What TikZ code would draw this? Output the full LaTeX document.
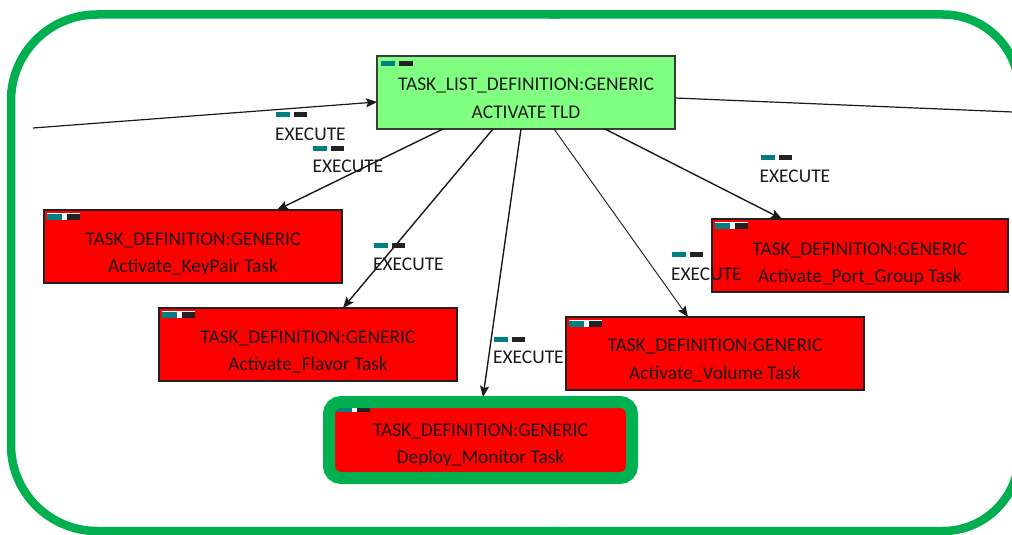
\documentclass[tikz,border=0pt]{standalone}
\usepackage{fontspec}
\setmainfont{Carlito}
\usetikzlibrary{arrows.meta,calc}
\definecolor{framegreen}{HTML}{00B050}
\definecolor{tldgreen}{HTML}{80FF80}
\definecolor{taskred}{HTML}{FF0000}
\definecolor{flagteal}{HTML}{008080}
\definecolor{flagdark}{HTML}{222222}
\definecolor{ink}{HTML}{1A1A1A}

\begin{document}
\begin{tikzpicture}[x=1pt,y=-1pt,
  taskbox/.style={draw=flagdark, line width=1.3pt, fill=taskred, minimum width=298pt,
    minimum height=73pt, inner sep=0pt, outer sep=0pt, anchor=north west},
  tldbox/.style={taskbox, fill=tldgreen, draw=ink!85, line width=1.8pt},
  boxtext/.style={text=ink, font=\fontsize{19.4}{28}\selectfont, anchor=base, inner sep=0pt},
  exectext/.style={boxtext, anchor=base west},
  edge/.style={draw=ink, line width=1.4pt, -{Stealth[length=11pt,width=9pt,inset=2pt]}},
  frame/.style={draw=framegreen, line width=8.5pt},
  flag/.pic={\fill[flagteal] (0,0) rectangle (14,5); \fill[flagdark] (18,0) rectangle (31,5);},
  boxflag/.pic={\fill[white] (0,0) rectangle (33,7);
    \fill[flagteal] (0,1) rectangle (15,7); \fill[flagdark] (20,1) rectangle (33,7);}
]
\useasboundingbox (0,0) rectangle (1012,535);
\clip (0,0) rectangle (1012,535);

% outer frame, drawn as two halves with their own corner radii
\draw[frame, rounded corners=86pt] (560,14.5) -- (11,14.5) -- (11,531) -- (560,531);
\draw[frame, rounded corners=76pt] (550,14.5) -- (1019,14.5) -- (1019,531) -- (550,531);

% task list definition
\node[tldbox] (tld) at (377,56) {};
\fill[flagteal] ($(tld.north west)+(4,5)$) rectangle ($(tld.north west)+(18,10)$);
\fill[flagdark] ($(tld.north west)+(22,5)$) rectangle ($(tld.north west)+(36,10)$);
\node[boxtext] (tld1) at ($(tld.north)+(0,35)$) {TASK\_LIST\_DEFINITION:GENERIC};
\node[boxtext] (tld2) at ($(tld.north)+(0,62)$) {ACTIVATE TLD};

% task definitions
\node[taskbox] (kp) at (44,210) {};
\pic at ($(kp.north west)+(3,3)$) {boxflag};
\node[boxtext] (kp1) at ($(kp.north)+(0,35)$) {TASK\_DEFINITION:GENERIC};
\node[boxtext] (kp2) at ($(kp.north)+(0,62)$) {Activate\_KeyPair Task};

\node[taskbox] (fl) at (159,308) {};
\pic at ($(fl.north west)+(3,3)$) {boxflag};
\node[boxtext] (fl1) at ($(fl.north)+(0,35)$) {TASK\_DEFINITION:GENERIC};
\node[boxtext] (fl2) at ($(fl.north)+(0,62)$) {Activate\_Flavor Task};

\node[taskbox] (vo) at (566,317) {};
\pic at ($(vo.north west)+(3,3)$) {boxflag};
\node[boxtext] (vo1) at ($(vo.north)+(0,34)$) {TASK\_DEFINITION:GENERIC};
\node[boxtext] (vo2) at ($(vo.north)+(0,62)$) {Activate\_Volume Task};

\node[taskbox, minimum width=296pt] (pg) at (712,219) {};
\pic at ($(pg.north west)+(3,3)$) {boxflag};
\node[boxtext] (pg1) at ($(pg.north)+(0,36)$) {TASK\_DEFINITION:GENERIC};
\node[boxtext] (pg2) at ($(pg.north)+(0,63)$) {Activate\_Port\_Group Task};

% selected task with its highlight
\node[taskbox, draw=none, rounded corners=5pt, minimum width=293pt, minimum height=66pt] (dm) at (334,407) {};
\pic at ($(dm.north west)+(3,-2)$) {boxflag};
\node[draw=framegreen, line width=12pt, rounded corners=12pt, minimum width=303pt,
  minimum height=76pt, inner sep=0pt, outer sep=0pt, anchor=north west] (dmframe) at (329,402) {};
\node[boxtext] (dm1) at ($(dm.north)+(0,29)$) {TASK\_DEFINITION:GENERIC};
\node[boxtext] (dm2) at ($(dm.north)+(0,56)$) {Deploy\_Monitor Task};

% connectors
\coordinate (lin) at (33,128);
\coordinate (rout) at (1020,112.3);
\draw[edge, line width=1.2pt] (lin) -- ($(tld.north west)+(0,46)$);
\draw[draw=ink, line width=1.2pt] ($(tld.north east)+(0,42)$) -- (rout);
\draw[edge] ($(tld.south west)+(66,0)$) -- ($(kp.north west)+(233,0)$);
\draw[edge] ($(tld.south west)+(116,0)$) -- ($(fl.north west)+(184,0)$);
\draw[edge] ($(tld.south west)+(144,0)$) -- ($(dmframe.north west)+(154,-5)$);
\draw[edge, line width=0.9pt] ($(tld.south west)+(177,0)$) -- ($(vo.north west)+(122,0)$);
\draw[edge] ($(tld.south west)+(228,0)$) -- ($(pg.north west)+(70,0)$);

% connector labels
\pic at (276,112) {flag};
\node[exectext] (x1) at (275,140) {EXECUTE};
\pic at (313,146) {flag};
\node[exectext] (x2) at (312.5,172) {EXECUTE};
\pic at (374,243) {flag};
\node[exectext] (x3) at (373,270.5) {EXECUTE};
\pic at (494,337) {flag};
\node[exectext] (x4) at (493,363) {EXECUTE};
\pic at (672,252) {flag};
\node[exectext] (x5) at (671,280) {EXECUTE};
\pic at (761,155) {flag};
\node[exectext] (x6) at (759.5,182) {EXECUTE};
\end{tikzpicture}
\end{document}
